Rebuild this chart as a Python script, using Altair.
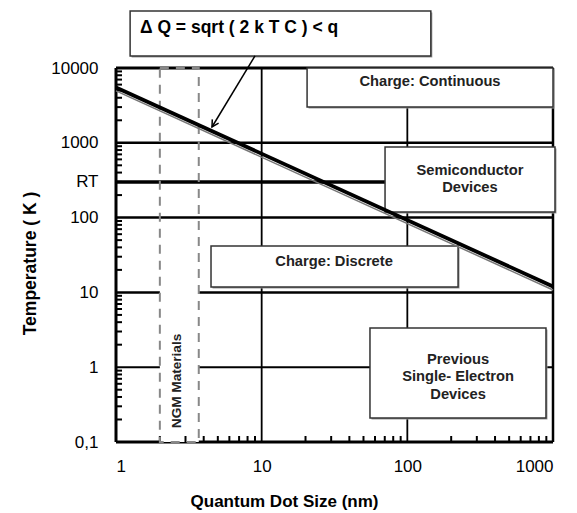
import math
import altair as alt
import pandas as pd

W, H = 437, 374
FONT = "Liberation Sans"

# ---- data ----
curve_size = [1, 1000]
curve_temp = [5500, 12]

hgrid_temp = [10000, 1000, 300, 100, 10, 1]
hgrid_width = [3, 2.5, 3.5, 2.5, 2.5, 2]
vgrid_size = [10, 100, 1000]
vgrid_width = [1.8, 1.8, 2.5]

y_tick_values = [0.1, 1, 10, 100, 300, 1000, 10000]
y_tick_labels = ["0,1", "1", "10", "100", "RT", "1000", "10000"]
x_tick_values = [1, 10, 100, 1000]

minor_mult = [2, 3, 4, 5, 6, 7, 8, 9]
y_minor = [m * 10 ** k for k in range(-1, 4) for m in minor_mult]
x_minor = [m * 10 ** k for k in range(0, 3) for m in minor_mult]

ngm_x1, ngm_x2 = [2.0], [3.7]
ngm_y1, ngm_y2 = [0.1], [10000]
ngm_fill_top = [30]

box_x1 = [1.25, 20.5, 70.3, 4.49, 55.4]
box_x2 = [145, 1000, 1032, 223, 895]
box_y1 = [14500, 3010, 119, 11.8, 0.21]
box_y2 = [57800, 10000, 879, 41.7, 3.34]

region_text = ["Charge: Continuous", "Semiconductor\nDevices", "Charge: Discrete",
               "Previous\nSingle- Electron\nDevices"]
region_x = [143, 269, 31.4, 223]
region_y = [6500, 426, 25.5, 1.25]

eq_text = ["\u0394 Q = sqrt ( 2 k T C ) < q"]
eq_x, eq_y = [1.46], [34300]

arrow_x1, arrow_y1 = [9.0], [14500]
arrow_x2, arrow_y2 = [4.56], [1626]

ngm_label = ["NGM Materials"]
ngm_label_x, ngm_label_y = [2.62], [0.655]

# ---- scales / axes ----
xs = alt.Scale(type="log", domain=[1, 1000], nice=False)
ys = alt.Scale(type="log", domain=[0.1, 10000], nice=False)

label_expr = "datum.label"
for v, l in zip(y_tick_values, y_tick_labels):
    label_expr = f"abs(log(datum.value)/LN10 - ({math.log10(v):.4f})) < 0.01 ? '{l}' : " + label_expr

x_axis = alt.Axis(values=x_tick_values, format="d", domain=False, ticks=False, grid=False,
                  labelFont=FONT, labelFontSize=17, labelColor="black", labelPadding=16,
                  title="Quantum  Dot Size (nm)", titleFont=FONT, titleFontSize=17,
                  titleFontWeight="bold", titleColor="black", titleX=168, titleY=59,
                  titleBaseline="middle")
y_axis = alt.Axis(values=y_tick_values, labelExpr=label_expr, domain=False, ticks=False,
                  grid=False, labelFont=FONT, labelFontSize=17, labelColor="black",
                  labelPadding=18, title="Temperature ( K )", titleFont=FONT,
                  titleFontSize=17.5, titleFontWeight="bold", titleColor="black",
                  titleAngle=-90, titleX=-86, titleY=195, titleBaseline="middle",
                  titleAlign="center")


def X(field="x"):
    return alt.X(f"{field}:Q", scale=xs, axis=x_axis)


def Y(field="y"):
    return alt.Y(f"{field}:Q", scale=ys, axis=y_axis)


# ---- layers ----
hgrid_df = pd.DataFrame({"x": [1] * len(hgrid_temp), "x2": [1000] * len(hgrid_temp),
                         "y": hgrid_temp, "w": hgrid_width})
hgrid = alt.Chart(hgrid_df).mark_rule(color="black").encode(
    x=X(), x2="x2:Q", y=Y(), strokeWidth=alt.StrokeWidth("w:Q", scale=None))

vgrid_df = pd.DataFrame({"x": vgrid_size, "y": [0.1] * 3, "y2": [10000] * 3, "w": vgrid_width})
vgrid = alt.Chart(vgrid_df).mark_rule(color="black").encode(
    x=X(), y=Y(), y2="y2:Q", strokeWidth=alt.StrokeWidth("w:Q", scale=None))

left_axis = alt.Chart(pd.DataFrame({"x": [1], "y": [0.1], "y2": [10000]})).mark_rule(
    color="black", strokeWidth=3).encode(x=X(), y=Y(), y2="y2:Q")
bottom_axis = alt.Chart(pd.DataFrame({"x": [1], "x2": [1000], "y": [0.1]})).mark_rule(
    color="black", strokeWidth=3).encode(x=X(), x2="x2:Q", y=Y())

y_minor_ticks = alt.Chart(pd.DataFrame({"y": y_minor})).mark_rule(
    color="black", strokeWidth=2).encode(y=Y(), x=alt.value(0), x2=alt.value(6))
x_minor_ticks = alt.Chart(pd.DataFrame({"x": x_minor})).mark_rule(
    color="black", strokeWidth=2).encode(x=X(), y=alt.value(H), y2=alt.value(H - 6))

ngm_fill = alt.Chart(pd.DataFrame({"x": ngm_x1, "x2": ngm_x2, "y": ngm_y1,
                                   "y2": ngm_fill_top})).mark_rect(fill="white").encode(
    x=X(), x2="x2:Q", y=Y(), y2="y2:Q")
ngm_rect = alt.Chart(pd.DataFrame({"x": ngm_x1, "x2": ngm_x2, "y": ngm_y1,
                                   "y2": ngm_y2})).mark_rect(
    fill=None, stroke="#888888", strokeWidth=2, strokeDash=[9, 7]).encode(
    x=X(), x2="x2:Q", y=Y(), y2="y2:Q")

box_df = pd.DataFrame({"x": box_x1, "x2": box_x2, "y": box_y1, "y2": box_y2})
box_shadow = alt.Chart(box_df).mark_rect(
    fill="#9a9a9a", xOffset=1.5, yOffset=1.5, x2Offset=1.5, y2Offset=1.5).encode(
    x=X(), x2="x2:Q", y=Y(), y2="y2:Q")
boxes = alt.Chart(box_df).mark_rect(
    fill="white", stroke="#333333", strokeWidth=1.5).encode(
    x=X(), x2="x2:Q", y=Y(), y2="y2:Q")

curve_df = pd.DataFrame({"x": curve_size, "y": curve_temp})
curve_shadow = alt.Chart(curve_df).mark_line(color="#777777", strokeWidth=1.5, yOffset=3.5).encode(
    x=X(), y=Y())
curve = alt.Chart(curve_df).mark_line(color="black", strokeWidth=3.8).encode(x=X(), y=Y())

region_labels = alt.Chart(pd.DataFrame({"x": region_x, "y": region_y, "t": region_text})).mark_text(
    font=FONT, fontSize=14.7, fontWeight="bold", color="#222222", align="center",
    baseline="middle", lineBreak="\n", lineHeight=17.5).encode(x=X(), y=Y(), text="t:N")

eq_label = alt.Chart(pd.DataFrame({"x": eq_x, "y": eq_y, "t": eq_text})).mark_text(
    font=FONT, fontSize=17.5, fontWeight="bold", color="black", align="left",
    baseline="middle").encode(x=X(), y=Y(), text="t:N")

arrow_shaft = alt.Chart(pd.DataFrame({"x": arrow_x1, "y": arrow_y1, "x2": arrow_x2,
                                      "y2": arrow_y2})).mark_rule(
    color="black", strokeWidth=1.5).encode(x=X(), x2="x2:Q", y=Y(), y2="y2:Q")

dx = (math.log10(arrow_x2[0]) - math.log10(arrow_x1[0])) * W / 3
dy = -(math.log10(arrow_y2[0]) - math.log10(arrow_y1[0])) * H / 5
head_angle = math.degrees(math.atan2(dx, -dy)) % 360
arrow_head = alt.Chart(pd.DataFrame({"x": arrow_x2, "y": arrow_y2})).mark_point(
    shape="M-0.55,1L0,0L0.55,1", filled=False, stroke="black", strokeWidth=1.5,
    size=180, angle=head_angle, opacity=1).encode(x=X(), y=Y())

ngm_text = alt.Chart(pd.DataFrame({"x": ngm_label_x, "y": ngm_label_y, "t": ngm_label})).mark_text(
    font=FONT, fontSize=13.6, fontWeight="bold", color="#222222", angle=270,
    align="center", baseline="middle").encode(x=X(), y=Y(), text="t:N")

chart = alt.layer(
    hgrid, vgrid, left_axis, bottom_axis, ngm_fill, y_minor_ticks, x_minor_ticks,
    ngm_rect, box_shadow, boxes, curve_shadow, curve, region_labels, eq_label,
    arrow_shaft, arrow_head, ngm_text,
).properties(
    width=W, height=H,
    autosize=alt.AutoSizeParams(type="none"),
    padding={"left": 108, "top": 60, "right": 16, "bottom": 70},
    background="white",
).configure_view(stroke=None)

chart.save("out.html", embed_options={"renderer": "svg", "actions": False})
